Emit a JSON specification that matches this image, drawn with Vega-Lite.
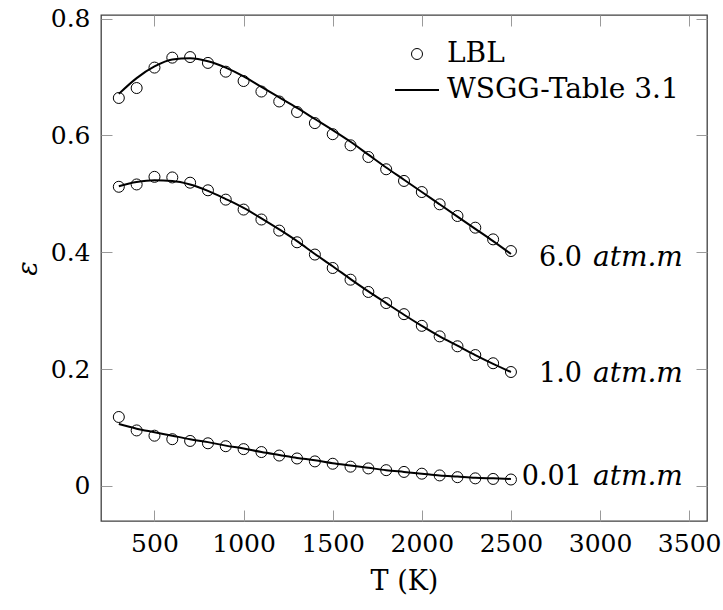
{
  "$schema": "https://vega.github.io/schema/vega-lite/v6.json",
  "width": 606,
  "height": 506,
  "autosize": {"type": "none"},
  "padding": {"left": 101, "top": 15, "right": 16, "bottom": 89},
  "config": {
    "view": {"stroke": "#404040", "strokeWidth": 1.3},
    "font": "DejaVu Serif, serif",
    "axis": {"tickColor": "#9a9a9a", "tickWidth": 1, "tickSize": 11, "offset": -11, "grid": false, "domain": false, "labelFont": "DejaVu Serif, serif", "titleFont": "DejaVu Serif, serif", "labelFontSize": 25, "titleFontSize": 27, "labelColor": "#000", "titleColor": "#000", "titleFontWeight": "normal"}
  },
  "datasets": {
    "curves": [
      {"T": 300, "p": "6.0", "lbl": 0.664, "wsgg": 0.671},
      {"T": 400, "p": "6.0", "lbl": 0.681, "wsgg": 0.698},
      {"T": 500, "p": "6.0", "lbl": 0.716, "wsgg": 0.718},
      {"T": 600, "p": "6.0", "lbl": 0.733, "wsgg": 0.730},
      {"T": 700, "p": "6.0", "lbl": 0.734, "wsgg": 0.732},
      {"T": 800, "p": "6.0", "lbl": 0.724, "wsgg": 0.727},
      {"T": 900, "p": "6.0", "lbl": 0.709, "wsgg": 0.716},
      {"T": 1000, "p": "6.0", "lbl": 0.693, "wsgg": 0.701},
      {"T": 1100, "p": "6.0", "lbl": 0.675, "wsgg": 0.683},
      {"T": 1200, "p": "6.0", "lbl": 0.658, "wsgg": 0.665},
      {"T": 1300, "p": "6.0", "lbl": 0.640, "wsgg": 0.647},
      {"T": 1400, "p": "6.0", "lbl": 0.621, "wsgg": 0.628},
      {"T": 1500, "p": "6.0", "lbl": 0.602, "wsgg": 0.609},
      {"T": 1600, "p": "6.0", "lbl": 0.583, "wsgg": 0.589},
      {"T": 1700, "p": "6.0", "lbl": 0.563, "wsgg": 0.567},
      {"T": 1800, "p": "6.0", "lbl": 0.542, "wsgg": 0.545},
      {"T": 1900, "p": "6.0", "lbl": 0.522, "wsgg": 0.524},
      {"T": 2000, "p": "6.0", "lbl": 0.503, "wsgg": 0.503},
      {"T": 2100, "p": "6.0", "lbl": 0.482, "wsgg": 0.482},
      {"T": 2200, "p": "6.0", "lbl": 0.462, "wsgg": 0.461},
      {"T": 2300, "p": "6.0", "lbl": 0.442, "wsgg": 0.440},
      {"T": 2400, "p": "6.0", "lbl": 0.422, "wsgg": 0.419},
      {"T": 2500, "p": "6.0", "lbl": 0.402, "wsgg": 0.397},
      {"T": 300, "p": "1.0", "lbl": 0.512, "wsgg": 0.513},
      {"T": 400, "p": "1.0", "lbl": 0.516, "wsgg": 0.520},
      {"T": 500, "p": "1.0", "lbl": 0.529, "wsgg": 0.523},
      {"T": 600, "p": "1.0", "lbl": 0.528, "wsgg": 0.522},
      {"T": 700, "p": "1.0", "lbl": 0.519, "wsgg": 0.516},
      {"T": 800, "p": "1.0", "lbl": 0.506, "wsgg": 0.505},
      {"T": 900, "p": "1.0", "lbl": 0.490, "wsgg": 0.491},
      {"T": 1000, "p": "1.0", "lbl": 0.473, "wsgg": 0.476},
      {"T": 1100, "p": "1.0", "lbl": 0.456, "wsgg": 0.458},
      {"T": 1200, "p": "1.0", "lbl": 0.437, "wsgg": 0.439},
      {"T": 1300, "p": "1.0", "lbl": 0.417, "wsgg": 0.419},
      {"T": 1400, "p": "1.0", "lbl": 0.396, "wsgg": 0.397},
      {"T": 1500, "p": "1.0", "lbl": 0.373, "wsgg": 0.376},
      {"T": 1600, "p": "1.0", "lbl": 0.353, "wsgg": 0.354},
      {"T": 1700, "p": "1.0", "lbl": 0.332, "wsgg": 0.333},
      {"T": 1800, "p": "1.0", "lbl": 0.313, "wsgg": 0.313},
      {"T": 1900, "p": "1.0", "lbl": 0.294, "wsgg": 0.293},
      {"T": 2000, "p": "1.0", "lbl": 0.274, "wsgg": 0.274},
      {"T": 2100, "p": "1.0", "lbl": 0.256, "wsgg": 0.256},
      {"T": 2200, "p": "1.0", "lbl": 0.239, "wsgg": 0.240},
      {"T": 2300, "p": "1.0", "lbl": 0.224, "wsgg": 0.224},
      {"T": 2400, "p": "1.0", "lbl": 0.210, "wsgg": 0.209},
      {"T": 2500, "p": "1.0", "lbl": 0.195, "wsgg": 0.195},
      {"T": 300, "p": "0.01", "lbl": 0.118, "wsgg": 0.106},
      {"T": 400, "p": "0.01", "lbl": 0.095, "wsgg": 0.098},
      {"T": 500, "p": "0.01", "lbl": 0.086, "wsgg": 0.092},
      {"T": 600, "p": "0.01", "lbl": 0.080, "wsgg": 0.086},
      {"T": 700, "p": "0.01", "lbl": 0.077, "wsgg": 0.080},
      {"T": 800, "p": "0.01", "lbl": 0.073, "wsgg": 0.075},
      {"T": 900, "p": "0.01", "lbl": 0.068, "wsgg": 0.069},
      {"T": 1000, "p": "0.01", "lbl": 0.063, "wsgg": 0.064},
      {"T": 1100, "p": "0.01", "lbl": 0.058, "wsgg": 0.058},
      {"T": 1200, "p": "0.01", "lbl": 0.052, "wsgg": 0.053},
      {"T": 1300, "p": "0.01", "lbl": 0.047, "wsgg": 0.048},
      {"T": 1400, "p": "0.01", "lbl": 0.042, "wsgg": 0.044},
      {"T": 1500, "p": "0.01", "lbl": 0.038, "wsgg": 0.039},
      {"T": 1600, "p": "0.01", "lbl": 0.033, "wsgg": 0.035},
      {"T": 1700, "p": "0.01", "lbl": 0.030, "wsgg": 0.031},
      {"T": 1800, "p": "0.01", "lbl": 0.027, "wsgg": 0.027},
      {"T": 1900, "p": "0.01", "lbl": 0.024, "wsgg": 0.024},
      {"T": 2000, "p": "0.01", "lbl": 0.021, "wsgg": 0.021},
      {"T": 2100, "p": "0.01", "lbl": 0.018, "wsgg": 0.018},
      {"T": 2200, "p": "0.01", "lbl": 0.015, "wsgg": 0.016},
      {"T": 2300, "p": "0.01", "lbl": 0.013, "wsgg": 0.014},
      {"T": 2400, "p": "0.01", "lbl": 0.012, "wsgg": 0.013},
      {"T": 2500, "p": "0.01", "lbl": 0.011, "wsgg": 0.012}
    ],
    "labels": [
      {"T": 2500, "eps": 0.3906, "num": "6.0", "unit": "atm.m"},
      {"T": 2500, "eps": 0.1923, "num": "1.0", "unit": "atm.m"},
      {"T": 2500, "eps": 0.0145, "num": "0.01", "unit": "atm.m"}
    ]
  },
  "layer": [
    {
      "data": {"name": "curves"},
      "mark": {"type": "point", "filled": false, "stroke": "black", "size": 121, "opacity": 1},
      "encoding": {
        "x": {"field": "T", "type": "quantitative", "scale": {"domain": [200, 3600], "nice": false, "zero": false},
              "axis": {"orient": "bottom", "values": [500, 1000, 1500, 2000, 2500, 3000, 3500], "format": "d", "labelPadding": 10, "title": "T (K)", "titlePadding": 12}},
        "y": {"field": "lbl", "type": "quantitative", "scale": {"domain": [-0.06, 0.806], "nice": false, "zero": false},
              "axis": {"orient": "left", "values": [0, 0.2, 0.4, 0.6, 0.8], "format": "~f", "labelPadding": 11, "title": "ε", "titleFontStyle": "italic", "titlePadding": 8}},
        "detail": {"field": "p"},
        "shape": {"datum": "LBL", "scale": {"domain": ["LBL", "WSGG-Table 3.1"], "range": ["circle", "M-4,0H4"]},
                  "legend": {"title": null, "orient": "none", "legendX": 302, "legendY": 25, "labelFont": "DejaVu Serif, serif", "labelFontSize": 28, "labelColor": "#000", "labelOffset": 16, "labelLimit": 400, "rowPadding": 8, "symbolStrokeColor": "black", "symbolFillColor": "transparent", "symbolSize": 121}},
        "strokeWidth": {"datum": "LBL", "scale": {"domain": ["LBL", "WSGG-Table 3.1"], "range": [1, 2]}}
      }
    },
    {
      "data": {"name": "curves"},
      "mark": {"type": "line", "color": "black", "strokeWidth": 2, "interpolate": "monotone"},
      "encoding": {
        "x": {"field": "T", "type": "quantitative",
              "axis": {"orient": "top", "values": [500, 1000, 1500, 2000, 2500, 3000, 3500], "labels": false, "title": null}},
        "y": {"field": "wsgg", "type": "quantitative",
              "axis": {"orient": "right", "values": [0, 0.2, 0.4, 0.6, 0.8], "labels": false, "title": null}},
        "detail": {"field": "p"}
      }
    },
    {
      "data": {"name": "labels"},
      "mark": {"type": "text", "align": "right", "baseline": "middle", "dx": 71, "font": "DejaVu Serif, serif", "fontSize": 27, "color": "black"},
      "encoding": {
        "x": {"field": "T", "type": "quantitative", "axis": null},
        "y": {"field": "eps", "type": "quantitative", "axis": null},
        "text": {"field": "num"}
      }
    },
    {
      "data": {"name": "labels"},
      "mark": {"type": "text", "align": "left", "baseline": "middle", "dx": 82, "font": "DejaVu Serif, serif", "fontSize": 28, "fontStyle": "italic", "color": "black"},
      "encoding": {
        "x": {"field": "T", "type": "quantitative", "axis": null},
        "y": {"field": "eps", "type": "quantitative", "axis": null},
        "text": {"field": "unit"}
      }
    }
  ],
  "resolve": {"axis": {"x": "independent", "y": "independent"}}
}
